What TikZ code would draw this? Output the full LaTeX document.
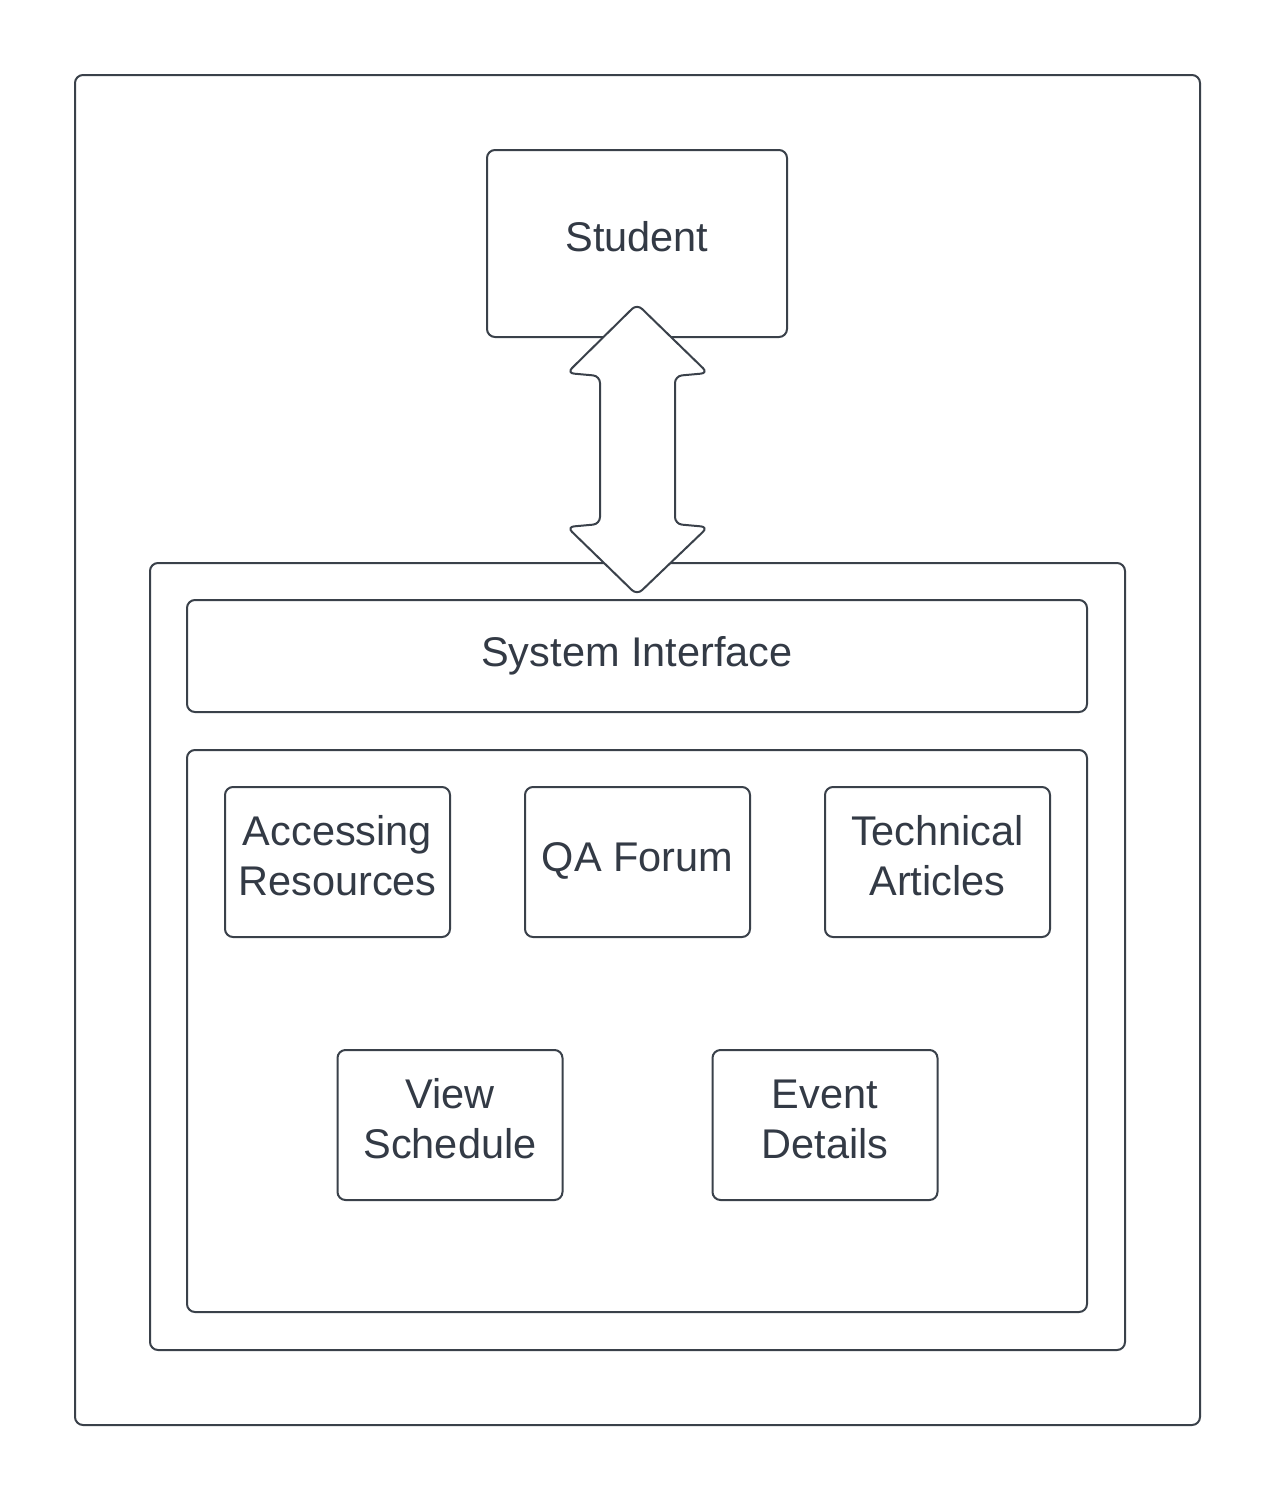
\documentclass[tikz,border=0pt]{standalone}
\usepackage{fontspec}
\setmainfont{Liberation Sans}
\definecolor{ln}{HTML}{3A414A}
\definecolor{tx}{HTML}{333A45}
\begin{document}
\begin{tikzpicture}[x=1pt,y=-1pt,
  box/.style={draw=ln,line width=2pt,rounded corners=8pt,fill=white,inner sep=0pt},
  lab/.style={text=tx,align=center,font=\fontsize{41.5}{50}\selectfont,inner sep=0pt,yshift=6pt}]
\useasboundingbox (0,0) rectangle (1275,1500);
\node[box,minimum width=1125pt,minimum height=1350pt] (outer) at (637.5,750) {};
\node[box,minimum width=300pt,minimum height=187pt,label={[lab,yshift=1pt]center:Student}] (student) at (637,243.5) {};
\node[box,minimum width=975pt,minimum height=787pt] (mid) at (637.5,956.5) {};
\node[box,minimum width=900pt,minimum height=112pt,label={[lab,yshift=-6pt]center:System Interface}] (si) at (637,656) {};
\node[box,minimum width=900pt,minimum height=562pt] (inner) at (637,1031) {};
\node[box,minimum width=225pt,minimum height=150pt,label={[lab]center:Accessing\\Resources}] (acc) at (337.5,862) {};
\node[box,minimum width=225pt,minimum height=150pt,label={[lab,yshift=-5pt]center:QA Forum}] (qa) at (637.5,862) {};
\node[box,minimum width=225pt,minimum height=150pt,label={[lab]center:Technical\\Articles}] (tech) at (937.5,862) {};
\node[box,minimum width=225pt,minimum height=150pt,label={[lab]center:View\\Schedule}] (view) at (450,1125) {};
\node[box,minimum width=225pt,minimum height=150pt,label={[lab]center:Event\\Details}] (event) at (825,1125) {};
\coordinate (atop) at (637,304);
\coordinate (abot) at (637,595);
\draw[draw=ln,line width=2pt,fill=white,rounded corners=7pt]
  (atop) -- (708,373) -- (675,376) -- (675,524) -- (708,527) -- (abot)
  -- (567,527) -- (600,524) -- (600,376) -- (567,373) -- cycle;
\end{tikzpicture}
\end{document}
